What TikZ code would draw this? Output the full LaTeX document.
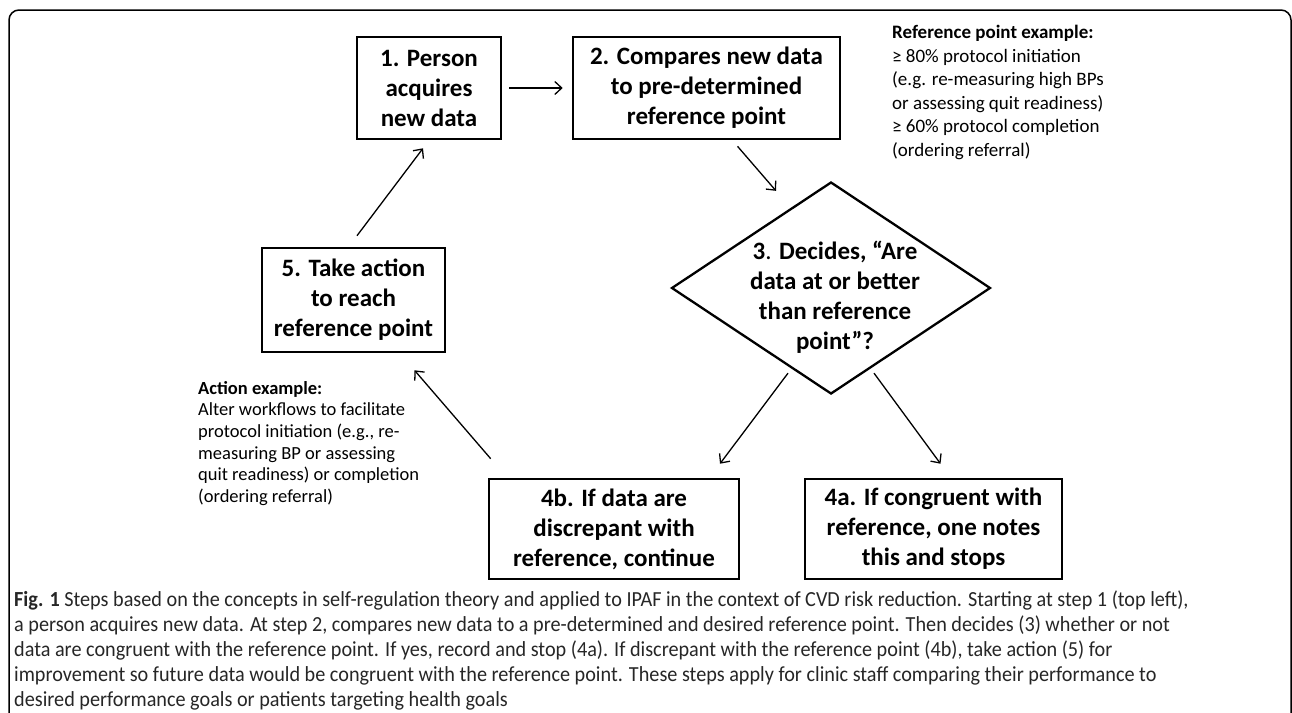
\documentclass[tikz,border=0pt]{standalone}
\usepackage{fontspec}
\setmainfont{Carlito}
\newfontfamily\capfont{Carlito}[FakeStretch=0.94]
\usetikzlibrary{arrows.meta,shapes.geometric}
\begin{document}
\begin{tikzpicture}[x=1pt,y=-1pt,
  box/.style={draw, line width=2.6pt, align=center, inner sep=0pt,
    font=\fontsize{25}{30}\selectfont\bfseries},
  diam/.style={draw, diamond, line width=2.3pt, inner sep=0pt,
    minimum width=319pt, minimum height=212pt},
  arr/.style={line width=1.3pt, -{Straight Barb[length=7pt,width=13pt,line width=1.3pt]}},
  note/.style={anchor=north west, align=left, inner sep=0pt}]
\useasboundingbox (0,0) rectangle (1292,712);
\clip (0,0) rectangle (1292,712);
\draw[line width=1.5pt, rounded corners=10pt] (9,10) rectangle (1291,760);

\node[box, minimum width=144pt, minimum height=102pt] (b1) at (429,88)
  {1. Person\\acquires\\new data};
\node[box, minimum width=267pt, minimum height=102pt] (b2) at (706.5,88)
  {2. Compares new data\\to pre-determined\\reference point};
\node[diam] (d) at (831,288) {};
\node[align=center, inner sep=0pt, font=\fontsize{25}{30}\selectfont\bfseries] (dt) at (835,297)
  {3{\mdseries.} Decides, “Are\\data at or better\\than reference\\point”?};
\node[box, minimum width=250pt, minimum height=100pt] (b4b) at (614,529)
  {4b. If data are\\discrepant with\\reference, continue};
\node[box, minimum width=257pt, minimum height=100pt] (b4a) at (933.5,529)
  {4a. If congruent with\\reference, one notes\\this and stops};
\node[box, minimum width=183pt, minimum height=104pt] (b5) at (353.5,300)
  {5. Take action\\to reach\\reference point};

\node[note, font=\fontsize{19}{23.6}\selectfont] (ref) at (892,25)
  {\textbf{Reference point example:}\\
   ≥ 80\% protocol initiation\\
   (e.g. re-measuring high BPs\\
   or assessing quit readiness)\\
   ≥ 60\% protocol completion\\
   (ordering referral)};
\node[note, font=\fontsize{18.5}{21.6}\selectfont] (act) at (198,381)
  {\textbf{Action example:}\\
   Alter workflows to facilitate\\
   protocol initiation (e.g., re-\\
   measuring BP or assessing\\
   quit readiness) or completion\\
   (ordering referral)};

\draw[arr] ([xshift=7pt]b1.east) -- ([xshift=-9pt]b2.west);
\draw[arr] ([shift={(31,6)}]b2.south) -- ([shift={(-55,10)}]d.north);
\draw[arr] ([shift={(-43,-22)}]d.south) -- ([shift={(106,-14)}]b4b.north);
\draw[arr] ([shift={(43,-22)}]d.south) -- ([shift={(7,-14)}]b4a.north);
\draw[arr] ([shift={(3,-19)}]b4b.north west) -- ([shift={(61,17)}]b5.south);
\draw[arr] ([shift={(3.5,-11)}]b5.north) -- ([shift={(-6,8)}]b1.south);

\node[note, font=\capfont\fontsize{21.5}{25}\selectfont, text=black!85] (cap) at (14,591)
  {\textbf{Fig. 1} Steps based on the concepts in self-regulation theory and applied to IPAF in the context of CVD risk reduction. Starting at step 1 (top left),\\
   a person acquires new data. At step 2, compares new data to a pre-determined and desired reference point. Then decides (3) whether or not\\
   data are congruent with the reference point. If yes, record and stop (4a). If discrepant with the reference point (4b), take action (5) for\\
   improvement so future data would be congruent with the reference point. These steps apply for clinic staff comparing their performance to\\
   desired performance goals or patients targeting health goals};
\end{tikzpicture}
\end{document}
